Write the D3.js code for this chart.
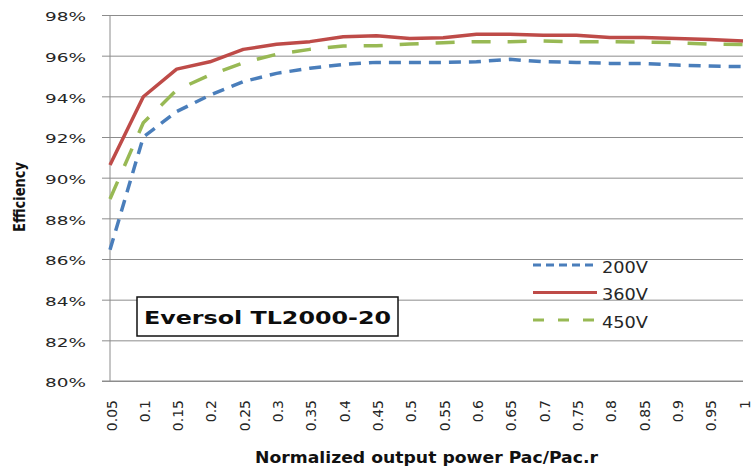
<!DOCTYPE html>
<html>
<head>
<meta charset="utf-8">
<script src="https://cdn.jsdelivr.net/npm/d3@7"></script>
<style>
  body { margin: 0; background: #fff; }
  text { font-family: "DejaVu Sans", Verdana, sans-serif; }
</style>
</head>
<body>
<svg id="chart" width="755" height="467"></svg>
<script>
// Normalized output power (category axis)
const loads = ["0.05","0.1","0.15","0.2","0.25","0.3","0.35","0.4","0.45","0.5",
               "0.55","0.6","0.65","0.7","0.75","0.8","0.85","0.9","0.95","1"];

// Efficiency (%) per DC input voltage
const eff200 = [86.45, 92.0, 93.25, 94.06, 94.72, 95.13, 95.38, 95.57, 95.67, 95.67,
                95.67, 95.70, 95.82, 95.70, 95.67, 95.62, 95.62, 95.54, 95.49, 95.46];
const eff360 = [90.62, 93.98, 95.34, 95.70, 96.31, 96.56, 96.69, 96.93, 96.98, 96.85,
                96.88, 97.05, 97.05, 97.00, 97.00, 96.89, 96.89, 96.85, 96.80, 96.72];
const eff450 = [88.95, 92.70, 94.31, 95.05, 95.65, 96.07, 96.31, 96.48, 96.49, 96.57,
                96.64, 96.69, 96.69, 96.72, 96.69, 96.69, 96.67, 96.64, 96.57, 96.55];

const seriesNames = ["200V", "360V", "450V"];
const yTicks = [80, 82, 84, 86, 88, 90, 92, 94, 96, 98];
const chartTitle = "Eversol TL2000-20";
const xTitle = "Normalized output power Pac/Pac.r";
const yTitle = "Efficiency";

const series = [
  { name: seriesNames[0], values: eff200, color: "#4a7ebb", dash: "12,8" },
  { name: seriesNames[1], values: eff360, color: "#be4b48", dash: null },
  { name: seriesNames[2], values: eff450, color: "#98b954", dash: "19,17" }
];

const svg = d3.select("#chart");
const plot = { left: 110, right: 743, top: 15, bottom: 381 };

const x = d3.scalePoint().domain(loads).range([plot.left, plot.right]);
const y = d3.scaleLinear().domain([80, 98]).range([plot.bottom, plot.top]);

const grid = "#8c8c8c";

// Horizontal gridlines with short outside ticks
const yAxis = svg.append("g")
  .attr("transform", `translate(${plot.left},0)`)
  .call(d3.axisLeft(y).tickValues(yTicks).tickSize(8).tickFormat(d => d + "%"));
yAxis.select(".domain").remove();
yAxis.selectAll(".tick line").attr("stroke", grid);
yAxis.selectAll(".tick").append("line")
  .attr("x1", 0).attr("x2", plot.right - plot.left)
  .attr("stroke", grid).attr("stroke-width", 1);
yAxis.selectAll(".tick text")
  .attr("x", -24).attr("dy", "0.45em")
  .attr("fill", "#262626")
  .attr("font-size", 13)
  .attr("textLength", 41)
  .attr("lengthAdjust", "spacingAndGlyphs")
  .style("font-family", "'DejaVu Sans', sans-serif");

// Vertical axis line
svg.append("line")
  .attr("x1", plot.left).attr("x2", plot.left)
  .attr("y1", plot.top).attr("y2", plot.bottom)
  .attr("stroke", grid);

// Category axis with rotated labels
const xAxis = svg.append("g")
  .attr("transform", `translate(0,${plot.bottom})`)
  .call(d3.axisBottom(x).tickSize(0));
xAxis.select(".domain").attr("stroke", grid).attr("d", `M${plot.left - 8},0H${plot.right}`);
xAxis.selectAll(".tick text")
  .attr("fill", "#262626")
  .attr("font-size", 14)
  .attr("text-anchor", "end")
  .attr("transform", "translate(1,19) rotate(-90)")
  .attr("x", 0).attr("y", 0).attr("dy", "0.36em")
  .style("font-family", "'DejaVu Sans', sans-serif");

// Efficiency curves
const line = d3.line()
  .x((d, i) => x(loads[i]))
  .y(d => y(d));

svg.append("g").selectAll("path")
  .data(series)
  .join("path")
  .attr("d", d => line(d.values))
  .attr("fill", "none")
  .attr("stroke", d => d.color)
  .attr("stroke-width", 3.5)
  .attr("stroke-dasharray", d => d.dash)
  .attr("stroke-linejoin", "round");

// Legend
const legendDash = ["8,5", null, "11,14"];
const legend = svg.append("g");
series.forEach((s, i) => {
  const ly = 265 + i * 27.5;
  legend.append("line")
    .attr("x1", 533).attr("x2", 597)
    .attr("y1", ly).attr("y2", ly)
    .attr("stroke", s.color).attr("stroke-width", 3)
    .attr("stroke-dasharray", legendDash[i]);
  legend.append("text")
    .attr("x", 602).attr("y", ly + 7.5)
    .attr("font-size", 15)
    .attr("fill", "#262626")
    .attr("textLength", 46)
    .attr("lengthAdjust", "spacingAndGlyphs")
    .text(s.name);
});

// Model name box
svg.append("rect")
  .attr("x", 137).attr("y", 297).attr("width", 261).attr("height", 39)
  .attr("fill", "#fff").attr("stroke", "#111").attr("stroke-width", 1.5);
svg.append("text")
  .attr("x", 267.5).attr("y", 323.5)
  .attr("text-anchor", "middle")
  .attr("font-size", 18).attr("font-weight", "bold")
  .attr("fill", "#0d0d0d")
  .attr("textLength", 247)
  .attr("lengthAdjust", "spacingAndGlyphs")
  .text(chartTitle);

// Axis titles
svg.append("text")
  .attr("x", 426.5).attr("y", 463)
  .attr("text-anchor", "middle")
  .attr("font-size", 15).attr("font-weight", "bold")
  .attr("fill", "#111")
  .attr("textLength", 343)
  .attr("lengthAdjust", "spacingAndGlyphs")
  .text(xTitle);

svg.append("text")
  .attr("transform", "translate(25,197) rotate(-90)")
  .attr("text-anchor", "middle")
  .attr("font-size", 15).attr("font-weight", "bold")
  .attr("fill", "#111")
  .attr("textLength", 70)
  .attr("lengthAdjust", "spacingAndGlyphs")
  .text(yTitle);
</script>
</body>
</html>
